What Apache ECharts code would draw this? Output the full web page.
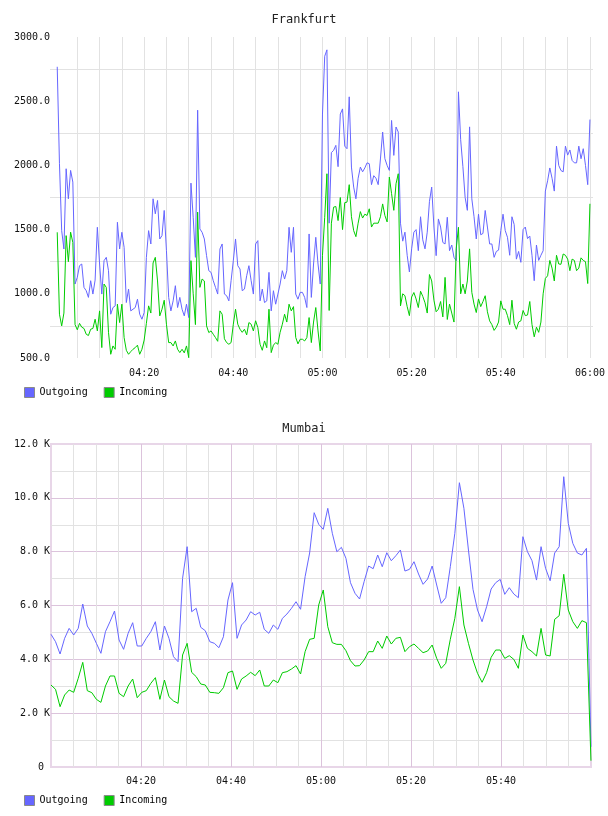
<!DOCTYPE html>
<html>
<head>
<meta charset="utf-8">
<script src="https://cdn.jsdelivr.net/npm/echarts@6/dist/echarts.min.js"></script>
<style>
html,body{margin:0;padding:0;background:#fff;}
#chart{width:608px;height:816px;}
</style>
</head>
<body>
<div id="chart"></div>
<script>
// ---- data ----
const SERIES_NAMES = ['Outgoing', 'Incoming'];
const TIME_TICK_LABELS = ['04:20', '04:40', '05:00', '05:20', '05:40', '06:00'];
const AXIS_START = '04:00';

// Frankfurt: samples every 30 s starting 04:00:30
const FRA_START_MIN = 0.5;
const FRA_STEP_MIN = 0.5;
const FRA_OUT = [
  2768,2013,1492,1349,1974,1740,1961,1870,1076,1128,
  1219,1232,1050,1024,972,1102,998,1107,1518,1232,
  998,1258,1284,1180,841,893,906,1557,1349,1479,
  1362,932,1037,867,880,893,958,841,802,854,
  1284,1492,1388,1740,1623,1727,1427,1453,1649,1336,
  972,867,945,1063,893,972,880,828,919,815,
  1862,1596,1284,2430,1505,1479,1427,1297,1180,1167,
  1102,1050,998,1349,1388,998,985,945,1102,1258,
  1427,1219,1193,1024,1037,1141,1219,1102,998,1388,
  1414,945,1037,932,945,1167,867,1024,919,998,
  1076,1180,1115,1180,1518,1323,1518,998,958,1011,
  1011,972,893,1466,972,1232,1440,1232,1076,2400,
  2850,2900,1550,2100,2117,2156,1990,2400,2440,2150,
  2130,2534,1987,1831,1740,1900,1987,1950,1980,2020,
  2013,1850,1920,1900,1850,2050,2260,2052,2000,1961,
  2350,2078,2299,2260,1550,1410,1480,1300,1170,1350,
  1480,1500,1336,1600,1420,1350,1480,1720,1831,1520,
  1297,1583,1520,1400,1388,1596,1336,1380,1284,1258,
  2573,2200,1990,1750,1650,2300,1740,1600,1427,1620,
  1460,1470,1649,1520,1388,1388,1284,1330,1340,1492,
  1620,1492,1440,1300,1600,1540,1270,1330,1245,1500,
  1520,1430,1450,1300,1102,1380,1260,1300,1336,1800,
  1880,1980,1900,1800,2150,2000,1960,1950,2150,2080,
  2120,2039,2020,2020,2150,2052,2130,2000,1850,2357
];
const FRA_IN = [
  1479,841,750,850,1453,1250,1480,1400,760,720,
  770,740,730,685,675,724,730,802,711,867,
  581,1076,1050,700,529,594,568,919,776,919,
  659,560,529,550,568,581,600,529,568,640,
  770,906,850,1240,1284,1100,828,880,950,763,
  620,620,594,633,568,542,568,540,594,503,
  1258,1000,760,1636,1050,1115,1100,750,698,711,
  685,659,630,867,841,650,620,607,620,763,
  880,763,724,700,724,680,776,763,711,790,
  737,607,560,633,580,880,542,600,620,607,
  700,763,841,780,919,867,900,660,610,646,
  646,633,659,815,620,780,893,711,555,1300,
  1596,1935,870,1550,1675,1680,1570,1750,1500,1710,
  1714,1850,1600,1492,1445,1550,1640,1590,1620,1610,
  1662,1520,1550,1550,1550,1600,1700,1610,1560,1909,
  1780,1650,1857,1935,906,1000,985,900,830,975,
  1010,960,893,1020,980,930,850,1150,1100,950,
  860,880,940,820,1128,800,920,850,780,1350,
  1518,1000,1076,1000,1100,1350,1011,920,854,960,
  900,940,985,860,789,760,715,740,780,945,
  880,880,830,760,950,770,724,780,789,870,
  830,835,940,760,665,740,700,780,1000,1120,
  1140,1260,1200,1100,1300,1232,1230,1310,1300,1270,
  1180,1270,1260,1180,1200,1280,1260,1250,1080,1701
];

// Mumbai: samples roughly every minute starting 04:00
const MUM_START_MIN = 0;
const MUM_STEP_MIN = 60.5 / 60;
const MUM_OUT = [
  4930,4655,4198,4780,5150,4904,5150,6055,5238,4967,
  4595,4224,5027,5398,5795,4718,4372,4967,5361,4495,
  4495,4780,5027,5398,4347,5238,4780,4098,3912,7010,
  8185,5770,5895,5190,5064,4655,4595,4432,4841,6204,
  6847,4780,5275,5461,5770,5647,5750,5115,4967,5275,
  5115,5523,5684,5895,6141,5860,7070,7950,9448,9016,
  8830,9610,8682,7999,8161,7753,6847,6453,6241,6884,
  7467,7367,7876,7441,7961,7664,7850,8062,7281,7343,
  7627,7170,6787,6984,7467,6761,6081,6290,7441,8682,
  10562,9610,8062,6600,5832,5398,5956,6613,6847,6970,
  6415,6662,6427,6290,8556,8000,7666,6945,8185,7380,
  6920,7950,8185,10785,9053,8308,7950,7876,8123,750
];
const MUM_IN = [
  3046,2885,2241,2675,2860,2774,3294,3888,2836,2761,
  2513,2402,3009,3381,3381,2737,2612,3009,3269,2575,
  2774,2836,3108,3319,2513,3232,2612,2452,2365,4161,
  4594,3517,3356,3083,3046,2774,2761,2737,2947,3505,
  3566,2885,3269,3381,3517,3393,3604,3009,3009,3232,
  3133,3505,3542,3641,3765,3455,4285,4743,4780,6018,
  6576,5212,4618,4556,4556,4321,3949,3752,3765,3975,
  4285,4285,4681,4408,4867,4569,4780,4817,4285,4470,
  4569,4408,4247,4309,4532,4036,3666,3852,4743,5523,
  6700,5275,4594,3975,3480,3147,3505,4074,4346,4346,
  4036,4136,3999,3666,4904,4408,4285,4124,5150,4161,
  4124,5486,5622,7159,5832,5398,5150,5436,5361,234
];

// ---- helpers ----
const FONT = 'DejaVu Sans Mono';
const BLUE = '#6666ff';
const GREEN = '#00cc00';
const GRID_GRAY = '#e2e2e2';
const GRID_MAJOR = '#dcc3dc';
const startH = parseInt(AXIS_START.split(':')[0], 10);
const startM = parseInt(AXIS_START.split(':')[1], 10);
function fmtTime(m) {
  const tot = Math.round(startH * 60 + startM + m);
  const h = Math.floor(tot / 60), mm = tot % 60;
  return String(h).padStart(2, '0') + ':' + String(mm).padStart(2, '0');
}
function toPairs(arr, start, step) {
  return arr.map((v, i) => [start + i * step, v]);
}

const chart = echarts.init(document.getElementById('chart'), null, {renderer: 'canvas'});

const legendBase = {
  data: SERIES_NAMES,
  left: 24,
  padding: 0,
  icon: 'rect',
  itemWidth: 10,
  itemHeight: 10,
  itemGap: 16,
  itemStyle: {borderColor: '#8a8a8a', borderWidth: 1},
  textStyle: {fontFamily: FONT, fontSize: 10, color: '#000'},
  selectedMode: false
};
const titleStyle = {fontFamily: FONT, fontSize: 12, fontWeight: 'normal', color: '#222'};

// Frankfurt plot: 500..3000 over y 37..358 (321 px). Helper grid for
// horizontal rules at 750,1250,...,2750 extends one half-step beyond each end.
const FRA_TOP = 37, FRA_H = 321;
const FRA_PX_PER_UNIT = FRA_H / 2500;

const option = {
  animation: false,
  backgroundColor: '#ffffff',
  title: [
    {text: 'Frankfurt', left: 'center', top: 14, padding: 0, textStyle: titleStyle},
    {text: 'Mumbai', left: 'center', top: 423, padding: 0, textStyle: titleStyle}
  ],
  legend: [
    Object.assign({}, legendBase, {top: 387}),
    Object.assign({}, legendBase, {top: 795})
  ],
  grid: [
    {left: 55, right: 17, top: FRA_TOP, height: FRA_H},
    {left: 50, right: 15, top: FRA_TOP - 250 * FRA_PX_PER_UNIT, height: FRA_H + 500 * FRA_PX_PER_UNIT},
    {left: 51, right: 17, top: 444, height: 323, show: true,
     borderColor: '#e8d6e8', borderWidth: 2, backgroundColor: 'transparent'}
  ],
  xAxis: [
    {gridIndex: 0, type: 'value', min: 0, max: 120, interval: 5,
     axisLine: {show: false}, axisTick: {show: false},
     axisLabel: {fontFamily: FONT, fontSize: 10, color: '#111', margin: 10,
       formatter: v => { const s = fmtTime(v); return TIME_TICK_LABELS.indexOf(s) >= 0 ? s : ''; }},
     splitLine: {show: true, showMinLine: false, lineStyle: {color: GRID_GRAY, width: 1}}},
    {gridIndex: 1, type: 'value', min: 0, max: 1, show: false},
    {gridIndex: 2, type: 'value', min: 0, max: 120, interval: 5,
     axisLine: {show: false}, axisTick: {show: false},
     axisLabel: {fontFamily: FONT, fontSize: 10, color: '#111', margin: 9,
       formatter: v => { const s = fmtTime(v); return (TIME_TICK_LABELS.indexOf(s) >= 0 && v < 120) ? s : ''; }},
     splitLine: {show: true, showMinLine: false, showMaxLine: false,
       lineStyle: {color: [GRID_GRAY, GRID_GRAY, GRID_GRAY, GRID_MAJOR], width: 1}}}
  ],
  yAxis: [
    {gridIndex: 0, type: 'value', min: 500, max: 3000, interval: 250,
     axisLine: {show: false}, axisTick: {show: false},
     axisLabel: {fontFamily: FONT, fontSize: 10, color: '#111', margin: 5,
       formatter: v => (v % 500 === 0 ? v.toFixed(1) : '')},
     splitLine: {show: false}},
    {gridIndex: 1, type: 'value', min: 250, max: 3250, interval: 500,
     axisLine: {show: false}, axisTick: {show: false}, axisLabel: {show: false},
     splitLine: {show: true, showMinLine: false, showMaxLine: false,
       lineStyle: {color: GRID_GRAY, width: 1}}},
    {gridIndex: 2, type: 'value', min: 0, max: 12000, interval: 1000,
     axisLine: {show: false}, axisTick: {show: false},
     axisLabel: {fontFamily: FONT, fontSize: 10, color: '#111', margin: 1,
       formatter: v => (v % 2000 !== 0 ? '' : (v === 0 ? '0 ' : (v / 1000).toFixed(1) + ' K'))},
     splitLine: {show: true, showMinLine: false, showMaxLine: false,
       lineStyle: {color: [GRID_GRAY, GRID_MAJOR], width: 1}}}
  ],
  series: [
    {name: SERIES_NAMES[0], type: 'line', xAxisIndex: 0, yAxisIndex: 0, showSymbol: false, symbol: 'none',
     color: BLUE, lineStyle: {color: BLUE, width: 1}, z: 3,
     data: toPairs(FRA_OUT, FRA_START_MIN, FRA_STEP_MIN)},
    {name: SERIES_NAMES[1], type: 'line', xAxisIndex: 0, yAxisIndex: 0, showSymbol: false, symbol: 'none',
     color: GREEN, lineStyle: {color: GREEN, width: 1}, z: 4,
     data: toPairs(FRA_IN, FRA_START_MIN, FRA_STEP_MIN)},
    {name: SERIES_NAMES[0], type: 'line', xAxisIndex: 2, yAxisIndex: 2, showSymbol: false, symbol: 'none',
     color: BLUE, lineStyle: {color: BLUE, width: 1}, z: 3,
     data: toPairs(MUM_OUT, MUM_START_MIN, MUM_STEP_MIN)},
    {name: SERIES_NAMES[1], type: 'line', xAxisIndex: 2, yAxisIndex: 2, showSymbol: false, symbol: 'none',
     color: GREEN, lineStyle: {color: GREEN, width: 1}, z: 4,
     data: toPairs(MUM_IN, MUM_START_MIN, MUM_STEP_MIN)}
  ]
};
chart.setOption(option);
</script>
</body>
</html>
